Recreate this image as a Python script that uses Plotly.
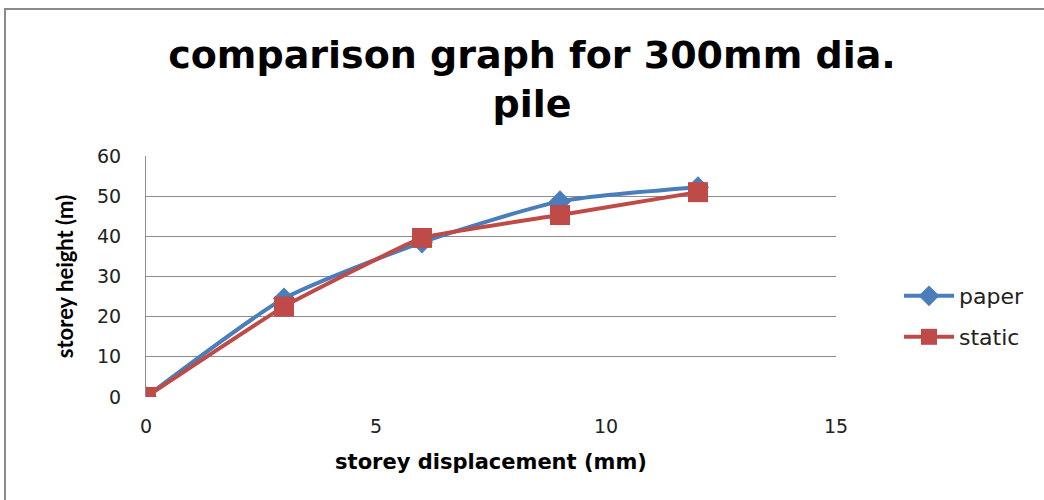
import plotly.graph_objects as go

displacement = [0, 3, 6, 9, 12]
paper_height = [0, 24.5, 38.5, 48.7, 52.2]
static_height = [0, 22.5, 39.6, 45.3, 51.0]
x_ticks = [0, 5, 10, 15]
y_ticks = [0, 10, 20, 30, 40, 50, 60]

fig = go.Figure()
fig.add_trace(go.Scatter(
    x=displacement, y=paper_height, name="paper", mode="lines+markers",
    line=dict(color="#4A7EBB", width=4, shape="spline", smoothing=0.6),
    marker=dict(symbol="diamond", size=17, color="#4A7EBB"),
    legend="legend",
))
fig.add_trace(go.Scatter(
    x=displacement, y=static_height, name="static", mode="lines+markers",
    line=dict(color="#BE4B48", width=4, shape="spline", smoothing=0.3),
    marker=dict(symbol="square", size=20, color="#BE4B48"),
    legend="legend2",
))

W, H = 1044, 500
L, R, T, B = 146, W - 836, 156, H - 397
pw, ph = W - L - R, H - T - B
plot_bottom = H - B

leg_font = dict(family="DejaVu Sans", size=22, color="#222")

fig.update_layout(
    width=W, height=H,
    margin=dict(l=L, r=R, t=T, b=B),
    paper_bgcolor="white", plot_bgcolor="white",
    title=dict(
        text="comparison graph for 300mm dia.<br>pile",
        font=dict(family="DejaVu Sans", size=38, color="black", weight="bold"),
        x=532 / W, xanchor="center", xref="container",
        y=1 - 68 / H, yanchor="middle", yref="container",
    ),
    xaxis=dict(
        range=[0, 15], tickvals=x_ticks, showgrid=False, zeroline=False,
        showline=False, ticks="", ticklabelstandoff=16,
        tickfont=dict(family="DejaVu Sans", size=19, color="#222"),
        title=dict(text="storey displacement (mm)",
                   font=dict(family="DejaVu Sans", size=21, color="black", weight="bold"),
                   standoff=18),
    ),
    yaxis=dict(
        range=[0, 60], tickvals=y_ticks, showgrid=True, gridcolor="#8c8c8c",
        gridwidth=1, zeroline=False, showline=True, linecolor="#8c8c8c",
        ticks="", ticklabelstandoff=20,
        tickfont=dict(family="DejaVu Sans", size=19, color="#222"),
        title=dict(text="storey height (m)",
                   font=dict(family="Lato", size=22, color="black", weight="bold"),
                   standoff=17),
    ),
    legend=dict(
        x=(899 - L) / pw, y=(plot_bottom - 296) / ph,
        xanchor="left", yanchor="middle", font=leg_font, itemwidth=50,
        bgcolor="rgba(0,0,0,0)",
    ),
    legend2=dict(
        x=(899 - L) / pw, y=(plot_bottom - 337) / ph,
        xanchor="left", yanchor="middle", font=leg_font, itemwidth=50,
        bgcolor="rgba(0,0,0,0)",
    ),
    showlegend=True,
)

fig.add_shape(
    type="rect", xref="paper", yref="paper",
    x0=(5 - L) / pw, x1=(1070 - L) / pw,
    y0=(plot_bottom - 530) / ph, y1=(plot_bottom - 9) / ph,
    line=dict(color="#8a8a8a", width=2), fillcolor="rgba(0,0,0,0)", layer="below",
)

fig.write_html("out.html", config={"displayModeBar": False},
               post_script="document.body.style.margin='0px';")
